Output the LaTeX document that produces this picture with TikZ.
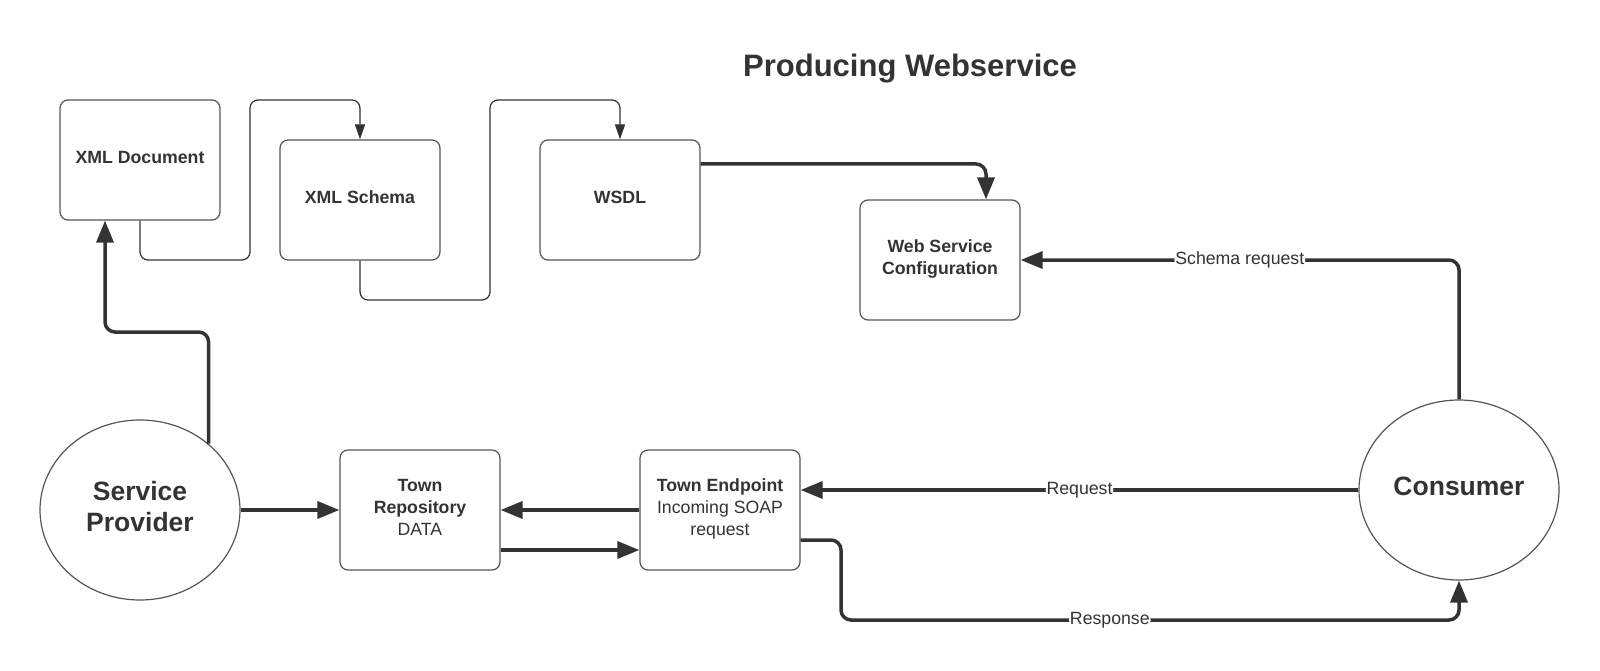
\documentclass[tikz,border=0pt]{standalone}
\usepackage{fontspec}
\setmainfont{Liberation Sans}
\usetikzlibrary{arrows.meta,shapes.geometric,calc}
\definecolor{ink}{HTML}{333333}
\definecolor{rim}{HTML}{555555}
\begin{document}
\begin{tikzpicture}[x=1pt,y=-1pt,
  box/.style={draw=rim, line width=1.2pt, rounded corners=8pt, minimum width=160pt,
    minimum height=120pt, align=center, text=ink, inner sep=0pt, text depth=6pt,
    font=\fontsize{17.7}{22}\selectfont},
  bbox/.style={box, font=\fontsize{17.7}{22}\selectfont\bfseries},
  actor/.style={ellipse, draw=rim, line width=1.2pt, minimum width=200pt, minimum height=180pt,
    align=center, text=ink, inner sep=0pt, text depth=7pt, font=\fontsize{26.5}{31}\selectfont\bfseries},
  thinarrow/.style={draw=ink, line width=1.2pt, rounded corners=8pt,
    -{Triangle[length=15pt,width=10pt]}},
  thickarrow/.style={draw=ink, line width=3.5pt, rounded corners=10pt,
    -{Triangle[length=22pt,width=17pt]}},
  lbl/.style={fill=white, text=ink, inner sep=1pt, font=\fontsize{17.7}{22}\selectfont}]
\useasboundingbox[fill=white] (0,0) rectangle (1600,671);

\node[text=ink, font=\fontsize{31}{37}\selectfont\bfseries] (title) at (910,69) {Producing Webservice};

\node[bbox] (xmldoc) at (140,160) {XML Document};
\node[bbox] (schema) at (360,200) {XML Schema};
\node[bbox] (wsdl) at (620,200) {WSDL};
\node[bbox] (wsc) at (940,260) {Web Service\\Configuration};
\node[box] (tr) at (420,510) {\textbf{Town}\\\textbf{Repository}\\DATA};
\node[box] (te) at (720,510) {\textbf{Town Endpoint}\\Incoming SOAP\\request};
\node[actor] (sp) at (140,510) {Service\\Provider};
\node[actor] (cons) at (1459,490) {Consumer};

\coordinate (a1) at (250,260);
\coordinate (a2) at (250,100);
\coordinate (b1) at (490,300);
\coordinate (b2) at (490,100);
\coordinate (spk) at (150,332);
\coordinate (r1) at (841,620);

% thin flow
\draw[thinarrow] (xmldoc.south) |- (a1) -- (a2) -| (schema.north);
\draw[thinarrow] (schema.south) |- (b1) -- (b2) -| (wsdl.north);

% thick flow
\draw[thickarrow] ([yshift=36pt]wsdl.east) -| ([xshift=46pt]wsc.north);
\draw[thickarrow] (sp.44) |- (spk) -| ([xshift=-35pt]xmldoc.south);
\draw[thickarrow] (sp.east) -- (tr.west);
\draw[thickarrow] (te.west) -- (tr.east);
\draw[thickarrow] ([yshift=-40pt]tr.east) -- ([yshift=-40pt]te.west);
\draw[thickarrow] (cons.west) -- node[lbl, pos=0.5] {Request} ([yshift=20pt]te.east);
\draw[thickarrow] ([yshift=-30pt]te.east) -| (r1) -- node[lbl, pos=0.435] {Response} (r1 -| cons.south) -- (cons.south);
\draw[thickarrow] (cons.north) |- node[lbl, pos=0.75] {Schema request} (wsc.east);
\end{tikzpicture}
\end{document}
